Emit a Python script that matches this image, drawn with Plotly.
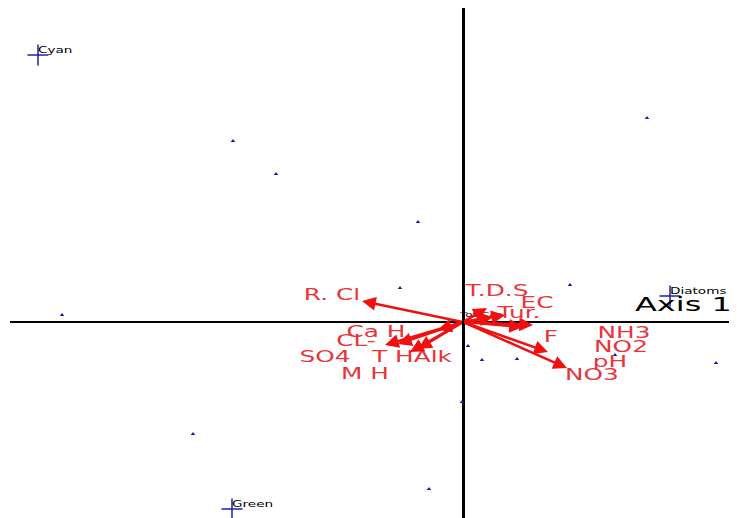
import plotly.graph_objects as go

# Biplot scores (axis units)
site_x = [-2.30, -1.87, -0.45, 1.84, -0.63, 1.07, -4.01, -0.20, 0.05, 0.19, 0.54, 1.52, 2.53, -0.01, -0.34, -2.70]
site_y = [1.81, 1.48, 1.00, 2.04, 0.34, 0.37, 0.07, -0.05, -0.24, -0.38, -0.37, -0.33, -0.41, -0.80, -1.67, -1.12]

taxa = ["Cyan", "Green", "Diatoms"]
taxa_x = [-4.25, -2.31, 2.07]
taxa_y = [2.67, -1.87, 0.26]

env_names = ["R. Cl", "CL-", "T HAlk", "Ca H", "M H", "T.D.S", "EC", "Tur.", "F", "NO2", "NO3", "SO4", "Tot Car."]
env_x = [-1.01, -0.78, -0.53, -0.25, -0.45, 0.24, 0.42, 0.70, 0.60, 0.85, 1.04, -0.65, 0.30]
env_y = [0.21, -0.23, -0.30, -0.08, -0.27, 0.14, 0.07, -0.03, -0.05, -0.30, -0.46, -0.22, 0.05]

lab_names = ["R. Cl", "Ca H", "CL-", "SO4", "T HAlk", "M H", "T.D.S", "EC", "Tur.", "F", "NH3", "NO2", "pH", "NO3"]
lab_x = [-1.31, -0.87, -1.07, -1.38, -0.51, -0.98, 0.34, 0.74, 0.56, 0.88, 1.61, 1.58, 1.47, 1.29]
lab_y = [0.26, -0.11, -0.20, -0.36, -0.36, -0.53, 0.30, 0.18, 0.08, -0.16, -0.12, -0.26, -0.41, -0.54]

axis_title = "Axis 1"
axis_title_x = [1.72]
axis_title_y = [0.155]

fig = go.Figure()

fig.add_trace(go.Scatter(x=site_x, y=site_y, mode="markers",
                         marker=dict(symbol="triangle-up", size=4, color="#1a1aa8"),
                         hoverinfo="skip", showlegend=False))
fig.add_trace(go.Scatter(x=taxa_x, y=taxa_y, mode="markers",
                         marker=dict(symbol="cross-thin", size=15, line=dict(color="#2020b0", width=1.5)),
                         hoverinfo="skip", showlegend=False))

for n, x, y in zip(env_names, env_x, env_y):
    fig.add_annotation(x=x, y=y, ax=0, ay=0, xref="x", yref="y", axref="x", ayref="y",
                       text="", showarrow=True, arrowhead=2, arrowsize=1.1,
                       arrowwidth=2.5, arrowcolor="#f01010")

fig.add_trace(go.Scatter(x=lab_x, y=lab_y, mode="text", text=lab_names,
                         textfont=dict(family="DejaVu Sans", size=16, color="#e8343a"),
                         hoverinfo="skip", showlegend=False, cliponaxis=False))

fig.add_trace(go.Scatter(x=taxa_x, y=taxa_y, mode="text", text=taxa, textposition="top right",
                         textfont=dict(family="DejaVu Sans", size=8, color="black"),
                         hoverinfo="skip", showlegend=False, cliponaxis=False))

fig.add_trace(go.Scatter(x=[-0.03], y=[0.07], mode="text", text=["Tot Car."], textposition="middle right",
                         textfont=dict(family="DejaVu Sans", size=7, color="black"),
                         hoverinfo="skip", showlegend=False, cliponaxis=False))

fig.add_trace(go.Scatter(x=axis_title_x, y=axis_title_y, mode="text", text=[axis_title],
                         textposition="middle right",
                         textfont=dict(family="DejaVu Sans", size=20, color="black"),
                         hoverinfo="skip", showlegend=False, cliponaxis=False))

fig.update_xaxes(range=[-4.53, 2.74], showgrid=False, showticklabels=False, ticks="",
                 zeroline=True, zerolinecolor="black", zerolinewidth=3, showline=False)
fig.update_yaxes(range=[-1.96, 3.14], showgrid=False, showticklabels=False, ticks="",
                 zeroline=True, zerolinecolor="black", zerolinewidth=2, showline=False)

# page body has an 8px margin; size the figure so the plot area lands where the reference has it
fig.update_layout(width=729, height=510, margin=dict(l=2, r=0, t=0, b=0),
                  plot_bgcolor="white", paper_bgcolor="white")

# the reference's lettering is horizontally stretched: widen the glyphs about their anchor
post = ("var sc=[1,1,1.55,1.7,1.7,1.6];"
        "document.querySelectorAll('.scatterlayer .trace').forEach(function(g,i){"
        "var s=sc[i]||1; if(s===1) return;"
        "g.querySelectorAll('.textpoint text').forEach(function(t){"
        "var x=parseFloat(t.getAttribute('x'))||0;"
        "var tr=t.getAttribute('transform')||'';"
        "t.setAttribute('transform', tr+' translate('+x+',0) scale('+s+',1) translate('+(-x)+',0)');"
        "});});")
fig.write_html("out.html", post_script=post)
